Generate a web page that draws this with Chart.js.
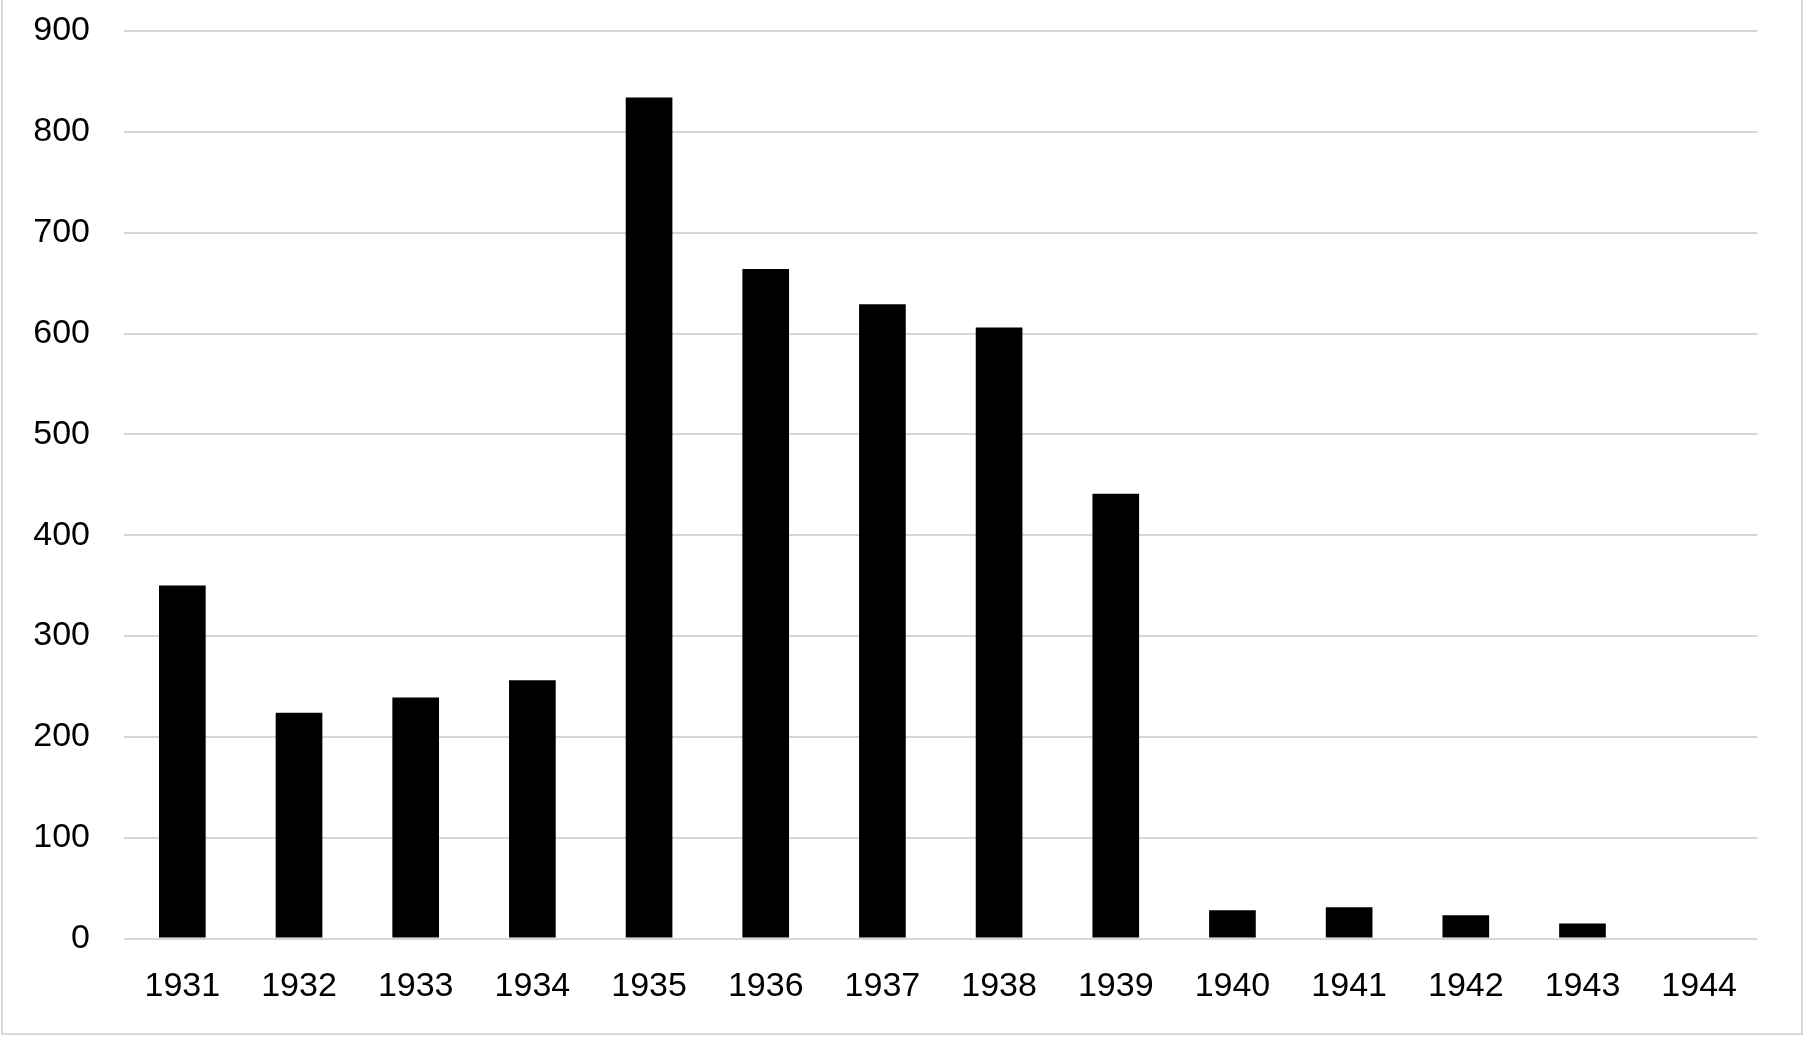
<!DOCTYPE html>
<html>
<head>
<meta charset="utf-8">
<script src="https://cdn.jsdelivr.net/npm/chart.js@4.4.1/dist/chart.umd.min.js"></script>
<style>
  html, body { margin: 0; padding: 0; background: #ffffff; }
  #wrap { position: relative; width: 1809px; height: 1040px; overflow: hidden; }
  #frame { position: absolute; left: 1px; top: -4px; width: 1802px; height: 1039px; border: 2px solid #d9d9d9; box-sizing: border-box; }
  canvas { position: absolute; left: 0; top: 0; }
</style>
</head>
<body>
<div id="wrap">
  <div id="frame"></div>
  <canvas id="c" width="1809" height="1040"></canvas>
</div>
<script>
const categories = ["1931","1932","1933","1934","1935","1936","1937","1938","1939","1940","1941","1942","1943","1944"];
const values = [350, 224, 239, 256, 834, 664, 629, 606, 441, 28, 31, 23, 15, 0];
const yTicks = [0, 100, 200, 300, 400, 500, 600, 700, 800, 900];

const FONT = { family: "'Liberation Sans', Arial, sans-serif", size: 34 };

new Chart(document.getElementById('c'), {
  type: 'bar',
  data: {
    labels: categories,
    datasets: [{
      data: values,
      backgroundColor: '#000000',
      borderWidth: 0,
      barPercentage: 0.4,
      categoryPercentage: 1.0
    }]
  },
  options: {
    responsive: false,
    animation: false,
    devicePixelRatio: 1,
    layout: { padding: { left: 0, right: 51.5, top: 31, bottom: 0 } },
    plugins: { legend: { display: false }, tooltip: { enabled: false } },
    scales: {
      x: {
        grid: { display: false, drawTicks: false },
        border: { display: false },
        ticks: { color: '#000000', font: FONT, padding: 28, maxRotation: 0, autoSkip: false },
        afterFit: s => { s.height = 101.5; s.paddingLeft = 0; s.paddingRight = 0; }
      },
      y: {
        min: 0, max: 900,
        afterBuildTicks: s => { s.ticks = yTicks.map(v => ({ value: v })); },
        grid: { color: '#d6d6d6', lineWidth: 2, drawTicks: false },
        border: { display: false },
        ticks: { color: '#000000', font: FONT, padding: 34 },
        afterFit: s => { s.width = 124; s.paddingTop = 0; s.paddingBottom = 0; }
      }
    }
  }
});
</script>
</body>
</html>
